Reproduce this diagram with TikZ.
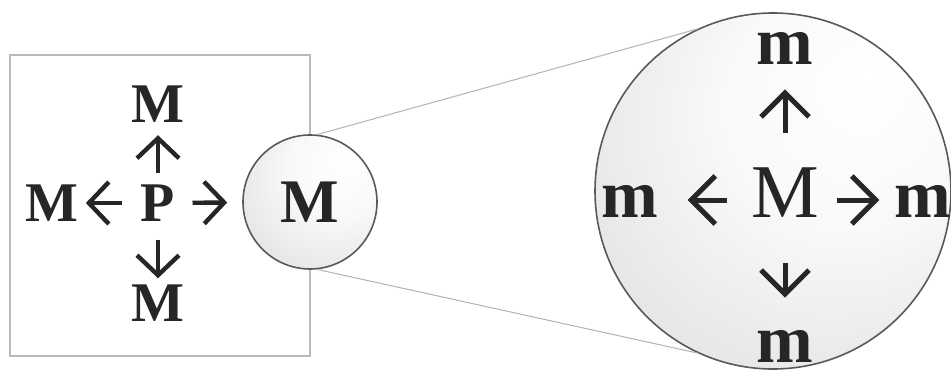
\documentclass[tikz,border=0pt]{standalone}
\usepackage{fontspec}
\setmainfont{Liberation Serif}
\usetikzlibrary{arrows.meta,positioning}
\pgfdeclareradialshading{bubble}{\pgfpoint{14bp}{16bp}}{color(0bp)=(white); color(18bp)=(gray!5); color(45bp)=(gray!27); color(70bp)=(gray!42)}

\begin{document}
\begin{tikzpicture}[
  x=0.5pt, y=-0.5pt,
  cell/.style={
    draw=gray!55,
    line width=0.8pt,
    minimum width=150pt,
    minimum height=150.5pt
    },
  blob/.style={
    circle,
    draw=black!65,
    line width=0.8pt,
    shading=bubble,
    inner sep=0pt,
    minimum size=#1
    },
  rim/.style={draw=gray!60, line width=0.5pt},
  sym/.style={font=\fontsize{28}{28}\selectfont\bfseries, inner sep=0pt, text=black!85},
  big/.style={font=\fontsize{38}{38}\selectfont, inner sep=0pt, text=black!85},
  small/.style={font=\fontsize{34}{34}\selectfont\bfseries, inner sep=0pt, text=black!85},
  row/.style={text height=17pt, text depth=0pt},
  arr/.style={-{Straight Barb[length=10pt,width=21pt]}, line width=2.2pt, draw=black!85},
  bigarr/.style={-{Straight Barb[length=12pt,width=24pt]}, line width=2.5pt, draw=black!85}
]
\useasboundingbox (0,0) rectangle (951,374);

% the cell
\node[cell] (cell) at (160,205.5) {};

% zoom lines
\coordinate (c1) at (310,202);
\coordinate (c2) at (773,191);
\node[blob=178pt] (zoom) at (c2) {};
\node[blob=67pt, font=\fontsize{31}{31}\selectfont\bfseries, text=black!85] (ball) at (c1) {M};
\draw[rim] (ball.84) -- (zoom.115);
\draw[rim] (ball.-84) -- (zoom.-115);

% parent and its products
\node[sym] (P)     at (158,203) {P};
\node[sym] (Mup)   at (158,104.5) {M};
\node[sym] (Mdown) at (158,303) {M};
\node[sym] (Mleft) at (52,203) {M};

\draw[arr, shorten <=5.5pt, shorten >=6pt] (P) -- (Mup);
\draw[arr, shorten <=9pt, shorten >=3pt] (P) -- (Mdown);
\draw[arr, shorten <=9pt, shorten >=3.5pt] (P) -- (Mleft);
\draw[arr, shorten <=8.5pt, shorten >=7.5pt] (P) -- (ball);

% inside the zoomed M
\node[big, row]   (M)      at (785,200) {M};
\node[small, row] (mleft)  at (630,200) {m};
\node[small, row] (mright) at (923,200) {m};
\node[small]      (mup)    at (785,48) {m};
\node[small]      (mdown)  at (785,346) {m};

\draw[bigarr, shorten <=25pt, shorten >=12.5pt] (M) -- (mup);
\draw[bigarr, shorten <=23pt, shorten >=16pt] (M) -- (mdown);
\draw[bigarr, shorten <=12pt, shorten >=14.5pt] (M) -- (mleft);
\draw[bigarr, shorten <=9pt, shorten >=7.5pt] (M) -- (mright);
\end{tikzpicture}
\end{document}
